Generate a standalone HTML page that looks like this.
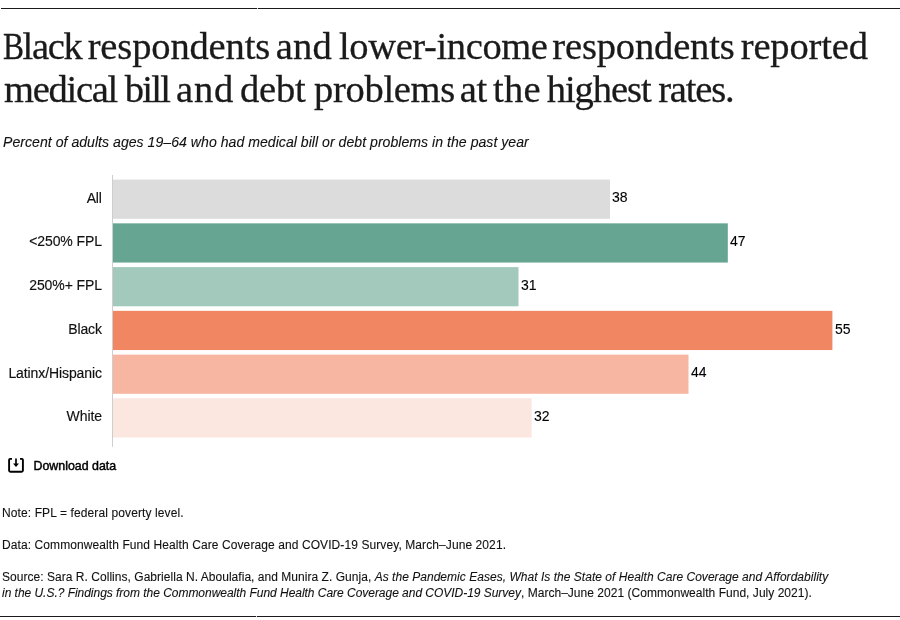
<!DOCTYPE html>
<html lang="en">
<head>
<meta charset="utf-8">
<title>Black respondents and lower-income respondents reported medical bill and debt problems at the highest rates.</title>
<style>
  html, body { margin: 0; padding: 0; background: #fff; }
  body { width: 900px; height: 620px; position: relative; overflow: hidden;
         font-family: "Liberation Sans", sans-serif; color: #1a1a1a; }
  .abs { position: absolute; white-space: nowrap; }
  .rule { position: absolute; height: 1px; background: #1a1a1a; }
  .rule span { position: absolute; top: 0; width: 1px; height: 1px; background: #d0d0d0; }
  h1 { margin: 0; font-family: "Liberation Serif", serif; font-weight: 400;
       font-size: 38.5px; line-height: 46px; color: #1a1a1a; position: absolute; left: 0; top: 23px;
       width: 900px; height: 90px; white-space: nowrap; -webkit-text-stroke: 0.3px #1a1a1a; }
  h1 .ln { position: absolute; left: 0; width: 900px; height: 46px; }
  h1 .l1 { top: 0; }
  h1 .l2 { top: 43px; }
  h1 .w { position: absolute; bottom: 0; line-height: 46px; transform-origin: 0 100%; }
  .sub { left: 3px; top: 133px; font-size: 14.1px; line-height: 18px; font-style: italic; letter-spacing: 0.02px; color: #111; -webkit-text-stroke: 0.1px #111; }
  svg.chart { position: absolute; left: 0; top: 170px; }
  .lab { position: absolute; left: 0; width: 101.9px; text-align: right; font-size: 14px; line-height: 16px; white-space: nowrap; letter-spacing: -0.1px; color: #111; -webkit-text-stroke: 0.15px #111; }
  .val { position: absolute; font-size: 14px; line-height: 16px; white-space: nowrap; color: #000; -webkit-text-stroke: 0.1px #000; }
  .dl { left: 33.5px; top: 458px; font-size: 12.4px; line-height: 16px; color: #000; -webkit-text-stroke: 0.45px #000; letter-spacing: 0px; }
  .note { left: 2px; font-size: 12px; line-height: 16px; letter-spacing: 0.07px; color: #111; -webkit-text-stroke: 0.1px #111; }
  .note i.a { letter-spacing: 0.03px; }
  .note i.b { letter-spacing: -0.03px; }
  svg.ico { position: absolute; left: 8px; top: 458px; }
</style>
</head>
<body>
<div class="rule" style="top:8px;left:1px;width:899px"><span style="left:256px"></span></div>
<h1><span class="ln l1"><span class="w" style="left:2.9px;letter-spacing:0px;transform:scaleX(0.84);font-size:37.5px;margin-bottom:-0.5px">B</span><span class="w" style="left:22.6px;letter-spacing:-1.3px">lack</span> <span class="w" style="left:87.7px;letter-spacing:-0.14px">respondents</span> <span class="w" style="left:275.7px;letter-spacing:0.25px">and</span> <span class="w" style="left:339px;letter-spacing:-0.37px">lower-income</span> <span class="w" style="left:552.3px;letter-spacing:-0.15px">respondents</span> <span class="w" style="left:740.7px;letter-spacing:-0.13px">reported</span></span> <span class="ln l2"><span class="w" style="left:4px;letter-spacing:-1.27px">medical</span> <span class="w" style="left:124.7px;letter-spacing:-1.73px">bill</span> <span class="w" style="left:176.1px;letter-spacing:0.75px">and</span> <span class="w" style="left:240px;letter-spacing:-0.17px">debt</span> <span class="w" style="left:314px;letter-spacing:-0.29px">problems</span> <span class="w" style="left:459.7px;letter-spacing:-0.4px">at</span> <span class="w" style="left:493px;letter-spacing:0.25px">the</span> <span class="w" style="left:546.7px;letter-spacing:-1.03px">highest</span> <span class="w" style="left:658.2px;letter-spacing:-1.16px">rates.</span></span></h1>
<div class="abs sub">Percent of adults ages 19–64 who had medical bill or debt problems in the past year</div>

<svg class="chart" width="900" height="290" viewBox="0 170 900 290">
  <rect x="112" y="175" width="1" height="271.8" fill="#cecece"/>
  <rect x="113" y="179.60" width="497.0" height="39.2" fill="#dcdcdc"/>
  <rect x="113" y="223.35" width="614.8" height="39.2" fill="#66a591"/>
  <rect x="113" y="267.10" width="405.5" height="39.2" fill="#a3c9bc"/>
  <rect x="113" y="310.85" width="719.4" height="39.2" fill="#f08662"/>
  <rect x="113" y="354.60" width="575.5" height="39.2" fill="#f7b6a1"/>
  <rect x="113" y="398.35" width="418.6" height="39.2" fill="#fbe7e0"/>
</svg>
<div class="lab" style="top:190px">All</div><div class="val" style="top:189px;left:612px">38</div>
<div class="lab" style="top:233px">&lt;250% FPL</div><div class="val" style="top:233px;left:730px">47</div>
<div class="lab" style="top:277px">250%+ FPL</div><div class="val" style="top:277px;left:521px">31</div>
<div class="lab" style="top:321px">Black</div><div class="val" style="top:321px;left:835px">55</div>
<div class="lab" style="top:365px">Latinx/Hispanic</div><div class="val" style="top:364px;left:691px">44</div>
<div class="lab" style="top:408px">White</div><div class="val" style="top:408px;left:534px">32</div>

<svg class="ico" width="16" height="16" viewBox="0 0 16 16">
  <path d="M4 0.9H2.3a1.2 1.2 0 0 0-1.2 1.2v10.5a1.2 1.2 0 0 0 1.2 1.2h11.4a1.2 1.2 0 0 0 1.2-1.2V2.1a1.2 1.2 0 0 0-1.2-1.2H12" fill="none" stroke="#000" stroke-width="1.9"/>
  <path d="M8 0.4V7" fill="none" stroke="#000" stroke-width="1.7"/>
  <path d="M5 5.5h6L8 9z" fill="#000"/>
</svg>
<div class="abs dl">Download data</div>

<div class="abs note" style="top:505px;letter-spacing:0.11px">Note: FPL = federal poverty level.</div>
<div class="abs note" style="top:537px;letter-spacing:0.09px">Data: Commonwealth Fund Health Care Coverage and COVID-19 Survey, March–June 2021.</div>
<div class="abs note" style="top:569px;letter-spacing:0.035px">Source: Sara R. Collins, Gabriella N. Aboulafia, and Munira Z. Gunja, <i class="a">As the Pandemic Eases, What Is the State of Health Care Coverage and Affordability</i></div>
<div class="abs note" style="top:585px;letter-spacing:0.03px"><i class="b">in the U.S.? Findings from the Commonwealth Fund Health Care Coverage and COVID-19 Survey</i>, March–June 2021 (Commonwealth Fund, July 2021).</div>
<div class="rule" style="top:616px;left:0;width:900px"><span style="left:256px"></span></div>
</body>
</html>
